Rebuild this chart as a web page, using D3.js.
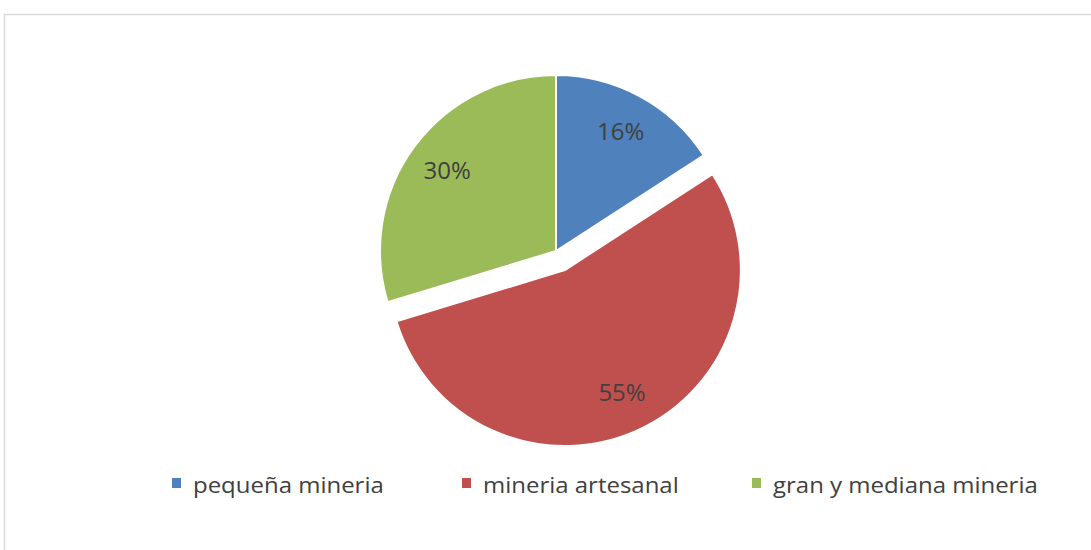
<!DOCTYPE html>
<html><head><meta charset="utf-8">
<script src="https://cdn.jsdelivr.net/npm/d3@7"></script>
<style>body{margin:0;background:#fff}svg{display:block}</style>
</head><body>
<svg id="c" width="1091" height="550"></svg>
<script>
const categories = ["pequeña mineria", "mineria artesanal", "gran y mediana mineria"];
const values = [16, 55, 30];
const labels = ["16%", "55%", "30%"];
const colors = ["#4F81BD", "#C0504D", "#9BBB59"];
const exploded = [false, true, false];

const svg = d3.select("#c");
svg.append("rect").attr("x", 4.5).attr("y", 14.5).attr("width", 1200).attr("height", 700)
  .attr("fill", "#fff").attr("stroke", "#d9d9d9").attr("stroke-width", 1.5);

const cx = 556, cy = 251, r = 176, explodeDist = 21;
const pie = d3.pie().sort(null).value(d => d)(values);
const arc = d3.arc().innerRadius(0).outerRadius(r);
const g = svg.append("g").attr("transform", `translate(${cx},${cy})`);

const slices = g.selectAll("g.s").data(pie).join("g").attr("class", "s")
  .attr("transform", (d, i) => {
    if (!exploded[i]) return null;
    const a = (d.startAngle + d.endAngle) / 2;
    return `translate(${Math.sin(a) * explodeDist},${-Math.cos(a) * explodeDist})`;
  });
slices.append("path").attr("d", arc).attr("fill", (d, i) => colors[i])
  .attr("stroke", "#fff").attr("stroke-width", 2).attr("stroke-linejoin", "round");

const labelArc = d3.arc().innerRadius(r * 0.77).outerRadius(r * 0.77);
slices.append("text")
  .attr("transform", d => `translate(${labelArc.centroid(d)})`)
  .attr("text-anchor", "middle").attr("dy", "0.35em")
  .attr("font-family", "'Open Sans', sans-serif").attr("font-size", 24)
  .attr("fill", "#404040")
  .text((d, i) => labels[i]);

const legendX = [172, 462, 752];
const leg = svg.append("g").selectAll("g").data(categories).join("g")
  .attr("transform", (d, i) => `translate(${legendX[i]},483)`);
leg.append("rect").attr("x", 0).attr("y", -5).attr("width", 9).attr("height", 10)
  .attr("fill", (d, i) => colors[i]);
leg.append("text").attr("transform", "translate(21,10) scale(1.09,1)")
  .attr("font-family", "'Open Sans', sans-serif").attr("font-size", 22)
  .attr("fill", "#404040").text(d => d);
</script>
</body></html>
